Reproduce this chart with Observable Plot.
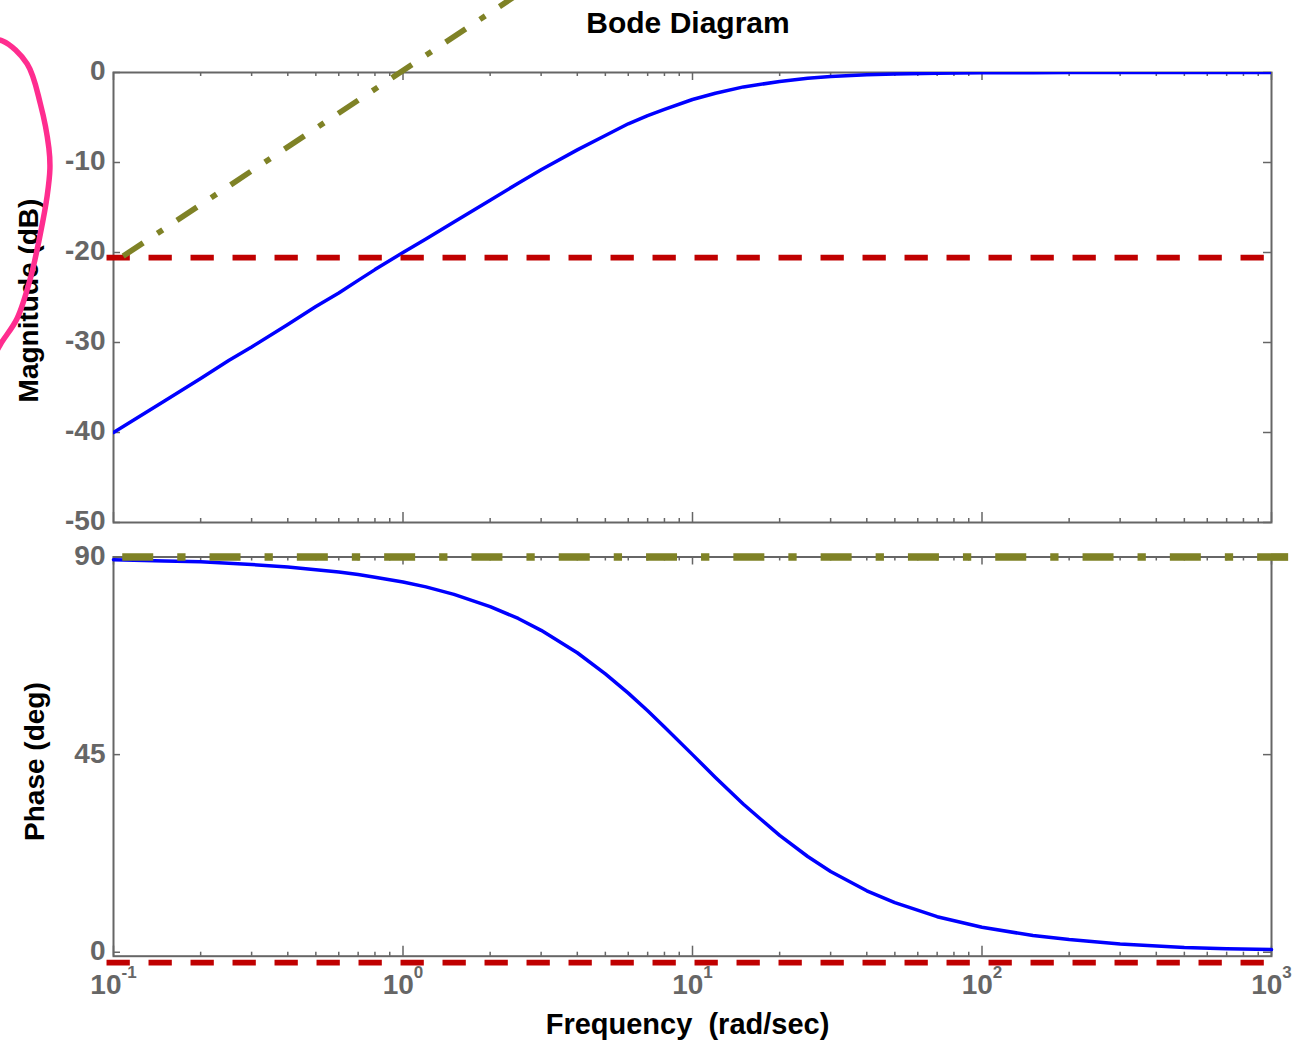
<!DOCTYPE html>
<html>
<head>
<meta charset="utf-8">
<script src="https://cdn.jsdelivr.net/npm/d3@7"></script>
<script src="https://cdn.jsdelivr.net/npm/@observablehq/plot@0.6"></script>
<style>
  body { margin: 0; background: #fff; }
  #wrap { position: relative; width: 1307px; height: 1042px; overflow: hidden;
          font-family: "Liberation Sans", Arial, Helvetica, sans-serif; }
  #wrap svg { position: absolute; left: 0; }
  #title { position: absolute; top: 8px; left: 0; width: 1376px; text-align: center;
           font-weight: bold; font-size: 30px; line-height: 30px; color: #000; }
</style>
</head>
<body>
<div id="wrap"></div>
<script>
// ---------------- data ----------------
const freq = [0.1, 0.15, 0.2, 0.25, 0.3, 0.4, 0.5, 0.6, 0.7, 0.8, 1, 1.2, 1.5, 2, 2.5, 3, 4, 5, 6, 7, 8, 10, 12, 15, 20, 25, 30, 40, 50, 70, 100, 150, 200, 300, 500, 700, 1000];
const magnitudeDb = [-40.0, -36.5, -34.0, -32.0, -30.5, -28.0, -26.0, -24.5, -23.1, -21.9, -20.0, -18.5, -16.6, -14.2, -12.3, -10.8, -8.6, -7.0, -5.7, -4.8, -4.1, -3.0, -2.3, -1.6, -1.0, -0.65, -0.45, -0.26, -0.17, -0.09, -0.04, -0.02, -0.01, 0, 0, 0, 0];
const phaseDeg = [89.4, 89.1, 88.9, 88.6, 88.3, 87.7, 87.1, 86.6, 86.0, 85.4, 84.3, 83.2, 81.5, 78.7, 76.0, 73.3, 68.2, 63.4, 59.0, 55.0, 51.3, 45.0, 39.8, 33.7, 26.6, 21.8, 18.4, 14.0, 11.3, 8.1, 5.7, 3.8, 2.9, 1.9, 1.1, 0.8, 0.6];

// asymptote overlays
const magRiseFreq = [0.108, 3.0];
const magRiseDb = [-20.4, 10.4];
const magFlatFreq = [0.0946, 946];
const magFlatDb = [-20.56, -20.56];
const phaseTopFreq = [0.1072, 1229];
const phaseTopDeg = [90, 90];
const phaseBottomFreq = [0.0946, 946];
const phaseBottomDeg = [-2.35, -2.35];

// hand-drawn pink annotation around the magnitude label (frequency, dB)
const annoFreq = [0.0361, 0.0414, 0.0503, 0.0559, 0.0598, 0.0603, 0.0590, 0.0559, 0.0517, 0.0465, 0.0407, 0.0376];
const annoDb = [3.6, 3.5, 0.97, -3.48, -8.37, -10.7, -13.7, -17.9, -22.8, -27.3, -30.2, -32.3];

// ticks
const majorTicks = [0.1, 1, 10, 100, 1000];
const majorTickExp = ["-1", "0", "1", "2", "3"];
const minorMultipliers = [2, 3, 4, 5, 6, 7, 8, 9];
const magTicks = [-50, -40, -30, -20, -10, 0];
const phaseTicks = [0, 45, 90];

const title = "Bode Diagram";
const magLabel = "Magnitude (dB)";
const phaseLabel = "Phase (deg)";
const freqLabel = "Frequency  (rad/sec)";

// ---------------- helpers ----------------
const minorTicks = majorTicks.slice(0, -1).flatMap(d => minorMultipliers.map(m => d * m));
const zipXY = (xs, ys) => xs.map((x, i) => ({x, y: ys[i]}));

const GRAY = "#666666";
const BLUE = "#0000ff";
const RED = "#c00000";
const OLIVE = "#7f8226";
const PINK = "#ff2d8f";
const FONT = "Liberation Sans, Arial, Helvetica, sans-serif";
const W = 1307, ML = 113, MR = 36;
const FW = W - ML - MR;

function frameMarks(fh, yTicks) {
  const t = {stroke: GRAY, strokeWidth: 1.5};
  return [
    Plot.frame({stroke: GRAY, strokeWidth: 2}),
    Plot.ruleX(majorTicks, {x: d => d, insetTop: fh - 10, ...t}),
    Plot.ruleX(majorTicks, {x: d => d, insetBottom: fh - 8, ...t}),
    Plot.ruleX(minorTicks, {x: d => d, insetTop: fh - 4, ...t}),
    Plot.ruleX(minorTicks, {x: d => d, insetBottom: fh - 4, ...t}),
    Plot.ruleY(yTicks, {y: d => d, insetRight: FW - 7, ...t}),
    Plot.ruleY(yTicks, {y: d => d, insetLeft: FW - 8, ...t}),
    Plot.text(yTicks, {y: d => d, text: d => String(d), frameAnchor: "left", textAnchor: "end",
      lineAnchor: "middle", dx: -8, dy: -1, fontSize: 28, fontWeight: "bold", fill: GRAY})
  ];
}

// ---------------- magnitude panel ----------------
const magH = 530, magMT = 72, magMB = 8;
const magPlot = Plot.plot({
  width: W, height: magH,
  marginLeft: ML, marginRight: MR, marginTop: magMT, marginBottom: magMB,
  style: {fontFamily: FONT, background: "transparent", overflow: "visible"},
  x: {type: "log", domain: [0.1, 1000], axis: null},
  y: {domain: [-50, 0], axis: null},
  marks: [
    ...frameMarks(magH - magMT - magMB, magTicks),
    Plot.line(zipXY(freq, magnitudeDb), {x: "x", y: "y", stroke: BLUE, strokeWidth: 3.5, clip: true}),
    Plot.line(zipXY(magFlatFreq, magFlatDb), {x: "x", y: "y", stroke: RED, strokeWidth: 5.7,
      strokeDasharray: "23.3,18.7", strokeLinecap: "butt"}),
    Plot.line(zipXY(magRiseFreq, magRiseDb), {x: "x", y: "y", stroke: OLIVE, strokeWidth: 5.6,
      strokeDasharray: "24,17,6.5,17", strokeLinecap: "butt"}),
    Plot.text([magLabel], {text: d => d, frameAnchor: "left", textAnchor: "middle", rotate: -90, dx: -84, dy: 3,
      lineAnchor: "middle", fontSize: 28, fontWeight: "bold", fill: "#000"}),
    Plot.line(zipXY(annoFreq, annoDb), {x: "x", y: "y", stroke: PINK, strokeWidth: 5.5, curve: "catmull-rom"})
  ]
});
magPlot.style.top = "0px";

// ---------------- phase panel ----------------
const phH = 512, phMT = 26.5, phMB = 86.3;
const phasePlot = Plot.plot({
  width: W, height: phH,
  marginLeft: ML, marginRight: MR, marginTop: phMT, marginBottom: phMB,
  style: {fontFamily: FONT, background: "transparent", overflow: "visible"},
  x: {type: "log", domain: [0.1, 1000], axis: null},
  y: {domain: [-0.9, 90], axis: null},
  marks: [
    ...frameMarks(phH - phMT - phMB, phaseTicks),
    Plot.line(zipXY(freq, phaseDeg), {x: "x", y: "y", stroke: BLUE, strokeWidth: 3.5}),
    Plot.line(zipXY(phaseBottomFreq, phaseBottomDeg), {x: "x", y: "y", stroke: RED, strokeWidth: 5.7,
      strokeDasharray: "23.3,18.7", strokeLinecap: "butt"}),
    Plot.line(zipXY(phaseTopFreq, phaseTopDeg), {x: "x", y: "y", stroke: OLIVE, strokeWidth: 7.7,
      strokeDasharray: "31,24,8.3,24", strokeLinecap: "butt"}),
    Plot.text(majorTicks, {x: d => d, text: (d, i) => "10^" + majorTickExp[i], frameAnchor: "bottom",
      lineAnchor: "bottom", dy: 37.3, fontSize: 28, fontWeight: "bold", fill: GRAY}),
    Plot.text([phaseLabel], {text: d => d, frameAnchor: "left", textAnchor: "middle", rotate: -90, dx: -78, dy: 5,
      lineAnchor: "middle", fontSize: 28, fontWeight: "bold", fill: "#000"}),
    Plot.text([freqLabel], {text: d => d, frameAnchor: "bottom", textAnchor: "middle", lineAnchor: "bottom", dx: -5, dy: 77.3,
      fontSize: 29, fontWeight: "bold", fill: "#000"})
  ]
});
phasePlot.style.top = magH + "px";

// power-of-ten labels: base + superscript exponent
d3.select(phasePlot).selectAll("text").each(function () {
  const t = this.textContent;
  if (t.startsWith("10^")) {
    const exp = t.slice(3);
    const el = d3.select(this);
    el.text(null);
    el.append("tspan").text("10");
    el.append("tspan").attr("font-size", 17).attr("dy", -15.7).text(exp);
  }
});
d3.select(phasePlot).selectAll("text").filter(function () { return this.textContent === freqLabel; })
  .style("white-space", "pre");

const wrap = document.getElementById("wrap");
wrap.appendChild(magPlot);
wrap.appendChild(phasePlot);
const titleDiv = document.createElement("div");
titleDiv.id = "title";
titleDiv.textContent = title;
wrap.appendChild(titleDiv);
</script>
</body>
</html>
